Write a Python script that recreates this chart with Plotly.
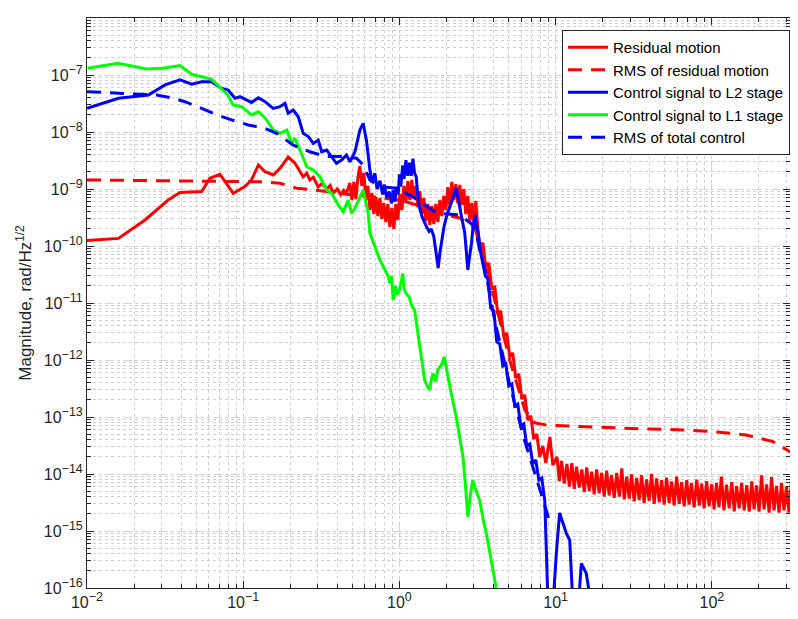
import plotly.graph_objects as go

# ---------------- data ----------------
# Residual motion (red solid)
res_f = [0.01, 0.0159, 0.0235, 0.0286, 0.0331, 0.0394, 0.0542, 0.0612, 0.071, 0.0863,
         0.1025, 0.113, 0.125, 0.138, 0.156, 0.172, 0.194, 0.214, 0.242, 0.255,
         0.267, 0.281, 0.302, 0.32, 0.342, 0.36, 0.376, 0.40, 0.42, 0.44, 0.458,
         0.4817, 0.4961, 0.5109, 0.5261, 0.5418, 0.5580, 0.5747, 0.5919, 0.6095, 0.6278,
         0.6466, 0.6658, 0.6858, 0.7063, 0.7274, 0.7491, 0.7715, 0.7946, 0.8185, 0.8428,
         0.8681, 0.8941, 0.9209, 0.9484, 0.9767, 1.006, 1.036, 1.067, 1.099, 1.132,
         1.166, 1.200, 1.236, 1.273, 1.311, 1.351, 1.391, 1.433, 1.476, 1.519,
         1.565, 1.612, 1.660, 1.710, 1.761, 1.814, 1.868, 1.924, 1.981, 2.040,
         2.101, 2.164, 2.228, 2.295, 2.364, 2.434, 2.507, 2.582, 2.659, 2.739,
         2.821, 2.905, 2.992, 3.082, 3.174,
         3.27, 3.42, 3.57, 3.73, 3.90, 4.08, 4.26, 4.45, 4.65, 4.87, 5.08, 5.31,
         5.55, 5.81, 6.07, 6.34, 6.63, 6.93, 7.24, 7.57, 7.91, 8.27, 8.65, 9.18, 9.59,
         10.2, 10.55, 10.9, 11.35, 11.8, 12.25, 12.7, 13.15, 13.6, 14.15, 14.7, 15.25,
         15.8, 16.4, 17.0, 17.65, 18.3, 19.0, 19.7, 20.45, 21.2, 22.0, 22.8, 23.7,
         24.6, 25.55, 26.5, 27.5, 28.5, 29.55, 30.6, 31.8, 33.0, 34.25, 35.5, 36.85,
         38.2, 39.65, 41.1, 42.7, 44.3, 46.0, 47.7, 49.5, 51.3, 53.25, 55.2, 57.35,
         59.5, 61.75, 64.0, 66.5, 69.0, 71.5, 74.0, 77.0, 80.0, 83.0, 86.0, 89.25,
         92.5, 96.0, 99.6, 103.3, 107, 111, 115, 119.5, 124, 129, 134, 139,
         144, 149.5, 155, 161, 167, 173.5, 180, 186.5, 193, 200.5, 208, 216,
         224, 232.5, 241, 250, 259, 269, 279, 289.5, 300, 311.5, 323, 335.5,
         348, 361.5, 375]
res_v = [1.25e-10, 1.36e-10, 2.86e-10, 4.6e-10, 6.4e-10, 8.7e-10, 9.0e-10, 1.54e-9, 1.81e-9, 8.4e-10,
         1.10e-9, 1.44e-9, 2.64e-9, 2.01e-9, 1.76e-9, 2.3e-9, 3.64e-9, 2.85e-9, 1.64e-9, 1.9e-9,
         1.44e-9, 1.6e-9, 1.09e-9, 1.25e-9, 1.0e-9, 1.15e-9, 8.4e-10, 1.0e-9, 8.0e-10, 9.5e-10, 8.4e-10,
         1.27e-9, 6.41e-10, 1.33e-9, 6.68e-10, 1.56e-9, 2.53e-9, 1.13e-9, 1.91e-9, 6.41e-10, 1.13e-9,
         4.28e-10, 8.51e-10, 3.64e-10, 7.24e-10, 3.36e-10, 6.95e-10, 2.98e-10, 5.68e-10, 2.64e-10, 5.46e-10,
         2.16e-10, 4.64e-10, 1.99e-10, 5.46e-10, 2.86e-10, 8.17e-10, 4.28e-10, 1.13e-9, 5.68e-10, 1.38e-9,
         6.41e-10, 1.44e-9, 6.68e-10, 1.13e-9, 4.83e-10, 9.22e-10, 3.64e-10, 6.95e-10, 2.75e-10, 5.46e-10,
         2.34e-10, 5.03e-10, 2.43e-10, 5.46e-10, 2.64e-10, 6.41e-10, 3.36e-10, 7.54e-10, 4.28e-10, 1.08e-9,
         5.03e-10, 1.33e-9, 6.41e-10, 1.22e-9, 5.68e-10, 1.18e-9, 5.24e-10, 1.0e-9, 3.64e-10, 7.54e-10,
         2.64e-10, 5.68e-10, 2.75e-10, 6.16e-10, 2.07e-10,
         9.6e-11, 1.13e-10, 4.28e-11, 5.03e-11, 1.83e-11, 1.91e-11, 6.41e-12, 7.24e-12, 2.64e-12, 2.98e-12,
         1.13e-12, 1.33e-12, 4.83e-13, 5.68e-13, 2.07e-13, 2.44e-13, 8.86e-14, 1.04e-13, 4.11e-14, 5.03e-14,
         1.99e-14, 3.10e-14, 1.56e-14, 4.46e-14, 1.44e-14,
         2.0e-14, 7.5e-15, 1.7e-14, 6.8e-15, 1.5e-14, 6.0e-15, 1.55e-14, 5.5e-15, 1.35e-14, 5.8e-15,
         1.2e-14, 4.8e-15, 1.3e-14, 5.0e-15, 1.1e-14, 4.4e-15, 1.2e-14, 4.6e-15, 1.05e-14, 4.0e-15,
         1.15e-14, 4.2e-15, 9.5e-15, 3.8e-15, 1.05e-14, 4.0e-15, 1.25e-14, 3.6e-15, 9.0e-15, 3.7e-15,
         9.8e-15, 3.3e-15, 8.5e-15, 3.5e-15, 9.5e-15, 3.1e-15, 8.0e-15, 3.4e-15, 1.0e-14, 3.0e-15,
         8.4e-15, 3.2e-15, 7.8e-15, 2.9e-15, 8.6e-15, 3.1e-15, 7.4e-15, 2.8e-15, 9.0e-15, 3.0e-15,
         7.2e-15, 2.7e-15, 7.8e-15, 2.9e-15, 7.0e-15, 2.6e-15, 8.0e-15, 2.8e-15, 6.8e-15, 2.5e-15,
         7.5e-15, 2.7e-15, 6.6e-15, 2.4e-15, 7.0e-15, 2.6e-15, 9.0e-15, 2.3e-15, 6.5e-15, 2.5e-15,
         7.2e-15, 2.2e-15, 6.2e-15, 2.5e-15, 7.0e-15, 2.3e-15, 6.4e-15, 2.2e-15, 7.4e-15, 2.4e-15,
         6.3e-15, 2.2e-15, 9.5e-15, 2.4e-15, 6.6e-15, 2.1e-15, 8.8e-15, 2.3e-15, 6.2e-15, 2.1e-15,
         7.0e-15, 2.3e-15, 6.0e-15, 2.1e-15, 7.6e-15, 2.2e-15, 6.4e-15, 2.4e-15, 6.0e-15]

# RMS of residual motion (red dashed)
rmsres_f = [0.01, 0.0953, 0.128, 0.172, 0.220, 0.281, 0.376, 0.506, 0.679, 1.0, 1.41, 1.82,
            2.43, 3.04, 3.51, 4.07, 5.08, 6.35, 7.34, 8.74, 13.6, 29.8, 68.7, 102, 166,
            246, 330, 360]
rmsres_v = [1.44e-9, 1.34e-9, 1.34e-9, 1.26e-9, 1.03e-9, 9.6e-10, 8.6e-10, 7.85e-10, 7.3e-10,
            6.4e-10, 4.9e-10, 3.75e-10, 3.1e-10, 2.07e-10, 5.7e-11, 1.13e-11, 1.0e-12, 1.33e-13,
            7.9e-14, 7.2e-14, 6.8e-14, 6.3e-14, 5.9e-14, 5.55e-14, 4.83e-14, 3.7e-14, 2.3e-14, 1.7e-14]

# Control signal to L2 stage (blue solid)
l2_f = [0.01, 0.0159, 0.0247, 0.0316, 0.0394, 0.0468, 0.0542, 0.0628, 0.0728, 0.0802,
        0.0885, 0.0952, 0.113, 0.125, 0.138, 0.1556, 0.172, 0.185, 0.194, 0.209,
        0.225, 0.242, 0.261, 0.281, 0.302, 0.318, 0.342, 0.368, 0.395, 0.426,
        0.458, 0.482, 0.519, 0.558, 0.586, 0.615, 0.647, 0.67, 0.696, 0.72,
        0.750, 0.78, 0.80, 0.828, 0.86, 0.891, 0.91, 0.936, 0.96, 0.982,
        1.0, 1.02, 1.05, 1.07, 1.10, 1.13, 1.16, 1.19, 1.22, 1.25,
        1.28, 1.31, 1.34, 1.40, 1.45, 1.49, 1.55, 1.60, 1.66, 1.72,
        1.77, 1.82, 1.86, 1.93, 2.0, 2.1, 2.2, 2.31, 2.36, 2.43,
        2.5, 2.62, 2.68, 2.74, 2.8, 2.89, 2.96, 3.04, 3.1, 3.19,
        3.3, 3.43, 3.55, 3.68, 3.84, 4.02, 4.20, 4.39, 4.59, 4.80,
        5.01, 5.24, 5.47, 5.72, 5.98, 6.25, 6.53, 6.83, 7.14, 7.46,
        7.80, 8.15, 8.52, 8.94, 9.5, 10.1, 10.6, 11.7, 12.3, 12.9,
        13.8, 14.6, 15.7, 16.9]
l2_v = [2.6e-8, 3.9e-8, 4.45e-8, 6.7e-8, 8.2e-8, 6.9e-8, 7.6e-8, 7.6e-8, 5.8e-8, 5.45e-8,
        3.9e-8, 4.16e-8, 3.3e-8, 4.0e-8, 3.4e-8, 2.6e-8, 2.78e-8, 3.19e-8, 2.13e-8, 2.43e-8,
        1.85e-8, 9.5e-9, 8.3e-9, 6.3e-9, 7.2e-9, 4.5e-9, 4.83e-9, 3.7e-9, 2.82e-9, 3.23e-9,
        3.95e-9, 3.0e-9, 4.5e-9, 1.08e-8, 1.42e-8, 7.2e-9, 2.15e-9, 1.3e-9, 1.9e-9, 1.0e-9,
        1.4e-9, 8.0e-10, 1.2e-9, 7.0e-10, 9.0e-10, 5.6e-10, 9.5e-10, 6.0e-10, 1.1e-9, 8.0e-10,
        1.8e-9, 1.1e-9, 2.6e-9, 1.5e-9, 3.2e-9, 1.7e-9, 2.9e-9, 1.7e-9, 3.4e-9, 1.9e-9,
        1.64e-9, 8.0e-10, 4.9e-10, 3.2e-10, 2.5e-10, 2.18e-10, 1.8e-10, 2.0e-10, 1.46e-10, 8.0e-11,
        4.1e-11, 8.0e-11, 1.27e-10, 2.2e-10, 3.27e-10, 5.0e-10, 7.0e-10, 1.03e-9, 7.0e-10, 4.9e-10,
        3.2e-10, 1.67e-10, 8.0e-11, 3.8e-11, 6.0e-11, 1.11e-10, 2.2e-10, 3.5e-10, 2.5e-10, 1.67e-10,
        8.0e-11, 5.0e-11, 3.0e-11, 2.64e-11, 8.17e-12, 7.24e-12, 2.07e-12, 1.91e-12, 7.85e-13, 8.51e-13,
        3.50e-13, 3.79e-13, 1.56e-13, 1.69e-13, 6.95e-14, 7.55e-14, 3.10e-14, 3.36e-14, 1.50e-14, 1.76e-14,
        7.85e-15, 8.51e-15, 3.36e-15, 5e-17, 3e-17, 4.1e-16, 2.07e-15, 9.1e-16, 6.95e-16, 5e-17,
        3e-17, 2.7e-16, 1.8e-16, 5e-17]

# Control signal to L1 stage (green solid)
l1_f = [0.0101, 0.0158, 0.0241, 0.0306, 0.0394, 0.0468, 0.0628, 0.0728, 0.0798, 0.0860,
        0.0977, 0.113, 0.125, 0.138, 0.156, 0.172, 0.190, 0.204, 0.214, 0.231,
        0.255, 0.281, 0.310, 0.342, 0.368, 0.406, 0.437, 0.470, 0.494, 0.519,
        0.558, 0.586, 0.631, 0.647, 0.750, 0.848, 0.869, 0.89, 0.912, 0.94,
        0.97, 1.0, 1.03, 1.05, 1.07, 1.10, 1.15, 1.2, 1.25, 1.3,
        1.34, 1.4, 1.45, 1.5, 1.56, 1.6, 1.64, 1.7, 1.76, 1.85,
        1.94, 2.0, 2.04, 2.15, 2.31, 2.45, 2.55, 2.65, 2.74, 2.85,
        2.95, 3.1, 3.26, 3.45, 3.60, 3.8, 3.97, 4.18, 4.3]
l1_v = [1.31e-7, 1.60e-7, 1.27e-7, 1.31e-7, 1.46e-7, 1.03e-7, 8.4e-8, 5.8e-8, 4.45e-8, 2.98e-8,
        2.78e-8, 1.99e-8, 2.27e-8, 1.76e-8, 1.08e-8, 9.5e-9, 1.08e-8, 6.3e-9, 7.75e-9, 4.83e-9,
        2.46e-9, 2.15e-9, 1.64e-9, 9.6e-10, 8.4e-10, 5.2e-10, 4.0e-10, 6.4e-10, 3.75e-10, 4.6e-10,
        7.3e-10, 9.6e-10, 3.75e-10, 1.67e-10, 5.7e-11, 2.9e-11, 2.2e-11, 3.0e-11, 1.13e-11, 2.0e-11,
        1.4e-11, 1.69e-11, 2.5e-11, 3.3e-11, 1.8e-11, 1.48e-11, 1.3e-11, 9.0e-12, 7.5e-12, 3.5e-12,
        1.71e-12, 8.0e-13, 4.45e-13, 3.6e-13, 2.98e-13, 4.5e-13, 5.8e-13, 4.2e-13, 6.7e-13, 8.0e-13,
        1.14e-12, 7.0e-13, 5.1e-13, 2.5e-13, 1.01e-13, 4.0e-14, 2.0e-14, 6.0e-15, 1.78e-15, 4.5e-15,
        7.8e-15, 5.0e-15, 3.5e-15, 1.5e-15, 9.1e-16, 4.0e-16, 2.07e-16, 1.05e-16, 6e-17]

# RMS of total control (blue dashed)
rmsctl_f = [0.01, 0.0184, 0.0279, 0.0357, 0.0424, 0.0542, 0.0676, 0.0843, 0.1077, 0.138,
            0.1636, 0.209, 0.267, 0.342, 0.437, 0.531, 0.586, 0.647, 0.750, 0.953,
            1.22, 1.73, 2.43, 3.04, 3.26, 3.6, 4.07, 5.08, 6.3, 7.9, 9.0]
rmsctl_v = [5.1e-8, 4.78e-8, 4.45e-8, 3.9e-8, 3.4e-8, 2.6e-8, 2.0e-8, 1.63e-8, 1.33e-8, 1.16e-8,
            9.5e-9, 5.9e-9, 4.5e-9, 3.7e-9, 3.7e-9, 3.46e-9, 2.64e-9, 1.44e-9, 1.10e-9, 1.03e-9,
            7.3e-10, 3.75e-10, 3.5e-10, 2.2e-10, 8.5e-11, 3.0e-11, 5.0e-12, 3.7e-13, 4.0e-14, 5.5e-15, 1.7e-15]

# axis ticks
x_tickvals = [0.01, 0.1, 1, 10, 100]
x_exponents = ["\u22122", "\u22121", "0", "1", "2"]
y_tickvals = [1e-16, 1e-15, 1e-14, 1e-13, 1e-12, 1e-11, 1e-10, 1e-9, 1e-8, 1e-7, 1e-6]
y_exponents = ["\u221216", "\u221215", "\u221214", "\u221213", "\u221212", "\u221211",
               "\u221210", "\u22129", "\u22128", "\u22127", "\u22126"]


def power_labels(exps):
    return ["10<sup><span style='font-size:12.5px'>%s</span></sup>" % e for e in exps]


series = [
    ("Residual motion", res_f, res_v, "#ff0000", "solid"),
    ("RMS of residual motion", rmsres_f, rmsres_v, "#ff0000", "14px,9px"),
    ("Control signal to L2 stage", l2_f, l2_v, "#0000ff", "solid"),
    ("Control signal to L1 stage", l1_f, l1_v, "#00ff00", "solid"),
    ("RMS of total control", rmsctl_f, rmsctl_v, "#0000ff", "14px,9px"),
]

fig = go.Figure()
for name, f, v, col, dash in series:
    fig.add_trace(go.Scatter(x=f, y=v, mode="lines", name=name,
                             line=dict(color=col, width=3, dash=dash)))

axis_common = dict(
    type="log", showline=True, linecolor="#262626", linewidth=1,
    mirror="ticks", ticks="inside", ticklen=7, tickcolor="#262626",
    showgrid=True, gridcolor="#d4d4d4", griddash="dash", gridwidth=1,
    zeroline=False,
    tickfont=dict(family="Liberation Sans, Arial", size=16, color="#262626"),
    minor=dict(dtick="D1", ticks="inside", ticklen=4, tickcolor="#262626",
               showgrid=True, gridcolor="#d0d0d0", griddash="dot", gridwidth=1),
)

fig.update_xaxes(range=[-2, 2.5], tickmode="array", tickvals=x_tickvals,
                 ticktext=power_labels(x_exponents), **axis_common)
fig.update_yaxes(range=[-16, -6], tickmode="array", tickvals=y_tickvals,
                 ticktext=power_labels(y_exponents),
                 title=dict(text="Magnitude, rad/Hz<sup>1/2</sup>",
                            font=dict(family="Liberation Sans, Arial", size=17, color="#262626"),
                            standoff=7),
                 **axis_common)

# the page adds an 8px body margin; size the figure so it fits without scrollbars
fig.update_layout(
    width=782, height=603,
    margin=dict(l=79, r=0, t=10, b=23, autoexpand=False),
    paper_bgcolor="white", plot_bgcolor="white",
    showlegend=True,
    legend=dict(x=1.0, y=0.979, xanchor="right", yanchor="top",
                bgcolor="white", bordercolor="#262626", borderwidth=1,
                font=dict(family="Liberation Sans, Arial", size=15, color="black"),
                itemwidth=40, tracegroupgap=0),
)

fig.write_html("out.html")
